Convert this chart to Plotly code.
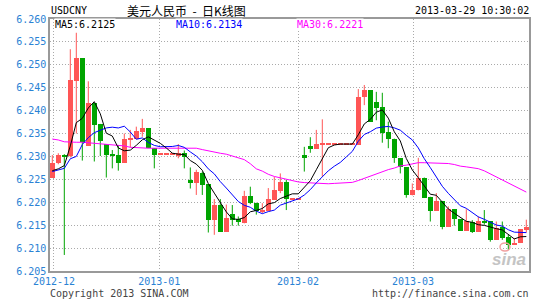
import plotly.graph_objects as go
import numpy as np

# ---------------- data ----------------
opens = [6.2254, 6.2285, 6.2303, 6.2300, 6.2465, 6.2514, 6.2323, 6.2416, 6.2371, 6.2327,
         6.2305, 6.2303, 6.2286, 6.2337, 6.2338, 6.2354, 6.2362, 6.2318, 6.2305, 6.2305,
         6.2305, 6.2301, 6.2307, 6.2249, 6.2241, 6.2263, 6.2240, 6.2162, 6.2194, 6.2136,
         6.2175, 6.2163, 6.2154, 6.2214, 6.2199, 6.2178, 6.2182, 6.2205, 6.2225, 6.2244,
         6.2207, 6.2207, 6.2303, 6.2323, 6.2317, 6.2327, 6.2327, 6.2327, 6.2327, 6.2327,
         6.2327, 6.2325, 6.2429, 6.2445, 6.2419, 6.2407, 6.2353, 6.2339, 6.2296, 6.2276,
         6.2215, 6.2226, 6.2254, 6.2212, 6.2182, 6.2203, 6.2147, 6.2185, 6.2163, 6.2138,
         6.2156, 6.2136, 6.2158, 6.2159, 6.2118, 6.2146, 6.2125, 6.2107, 6.2111, 6.2140]

highs = [6.2303, 6.2307, 6.2305, 6.2534, 6.2570, 6.2514, 6.2464, 6.2416, 6.2371, 6.2327,
         6.2314, 6.2325, 6.2350, 6.2358, 6.2365, 6.2382, 6.2362, 6.2318, 6.2305, 6.2305,
         6.2305, 6.2327, 6.2313, 6.2276, 6.2271, 6.2267, 6.2240, 6.2207, 6.2207, 6.2195,
         6.2194, 6.2169, 6.2225, 6.2234, 6.2199, 6.2198, 6.2231, 6.2255, 6.2263, 6.2249,
         6.2207, 6.2207, 6.2321, 6.2342, 6.2358, 6.2381, 6.2327, 6.2327, 6.2327, 6.2327,
         6.2327, 6.2447, 6.2456, 6.2445, 6.2441, 6.2439, 6.2376, 6.2339, 6.2296, 6.2276,
         6.2241, 6.2297, 6.2254, 6.2212, 6.2220, 6.2203, 6.2191, 6.2185, 6.2163, 6.2185,
         6.2161, 6.2169, 6.2183, 6.2159, 6.2158, 6.2158, 6.2129, 6.2122, 6.2141, 6.2162]

lows = [6.2254, 6.2283, 6.2085, 6.2298, 6.2350, 6.2291, 6.2323, 6.2289, 6.2301, 6.2254,
        6.2274, 6.2269, 6.2286, 6.2320, 6.2338, 6.2343, 6.2318, 6.2274, 6.2305, 6.2305,
        6.2305, 6.2296, 6.2274, 6.2230, 6.2216, 6.2216, 6.2134, 6.2129, 6.2136, 6.2136,
        6.2149, 6.2149, 6.2154, 6.2196, 6.2173, 6.2176, 6.2182, 6.2205, 6.2220, 6.2183,
        6.2207, 6.2207, 6.2267, 6.2308, 6.2317, 6.2256, 6.2327, 6.2327, 6.2327, 6.2327,
        6.2327, 6.2325, 6.2412, 6.2376, 6.2379, 6.2330, 6.2318, 6.2286, 6.2263, 6.2210,
        6.2215, 6.2226, 6.2210, 6.2158, 6.2182, 6.2141, 6.2147, 6.2149, 6.2138, 6.2138,
        6.2133, 6.2136, 6.2151, 6.2114, 6.2118, 6.2118, 6.2096, 6.2107, 6.2111, 6.2134]

closes = [6.2285, 6.2303, 6.2300, 6.2467, 6.2514, 6.2332, 6.2416, 6.2369, 6.2334, 6.2303,
          6.2301, 6.2286, 6.2338, 6.2341, 6.2355, 6.2362, 6.2318, 6.2303, 6.2305, 6.2305,
          6.2305, 6.2307, 6.2298, 6.2241, 6.2265, 6.2238, 6.2162, 6.2194, 6.2136, 6.2165,
          6.2162, 6.2156, 6.2214, 6.2199, 6.2180, 6.2183, 6.2207, 6.2227, 6.2244, 6.2207,
          6.2207, 6.2207, 6.2297, 6.2317, 6.2327, 6.2327, 6.2327, 6.2327, 6.2327, 6.2327,
          6.2327, 6.2429, 6.2445, 6.2376, 6.2406, 6.2352, 6.2339, 6.2296, 6.2276, 6.2215,
          6.2227, 6.2254, 6.2210, 6.2182, 6.2203, 6.2147, 6.2185, 6.2163, 6.2138, 6.2159,
          6.2136, 6.2159, 6.2156, 6.2118, 6.2143, 6.2122, 6.2107, 6.2110, 6.2141, 6.2146]

# moving-average values at the left edge (earlier history not shown)
ma5_head = [6.2269, 6.2273, 6.2280, 6.2323]
ma10_head = [6.2267, 6.2270, 6.2274, 6.2295, 6.2300, 6.2326, 6.2341, 6.2352, 6.2358]
ma30_head = [6.2338, 6.2336, 6.2332, 6.2331, 6.2331, 6.2331, 6.2330, 6.2329, 6.2327, 6.2326,
             6.2325, 6.2324, 6.2323, 6.2320, 6.2319, 6.2318, 6.2318, 6.2318, 6.2318, 6.2318,
             6.2318, 6.2319, 6.2319, 6.2318, 6.2318, 6.2315, 6.2312, 6.2310, 6.2307]

ma_labels = ["MA5:6.2125", "MA10:6.2134", "MA30:6.2221"]

month_ticks = [0.28, 17.83, 40.95, 60.12]
month_labels = ["2012-12", "2013-01", "2013-02", "2013-03"]
price_ticks = [6.205, 6.210, 6.215, 6.220, 6.225, 6.230, 6.235, 6.240, 6.245, 6.250, 6.255, 6.260]

title_code = "USDCNY"
title_cn = "美元人民币\u00a0\u00a0-\u00a0\u00a0日K线图"
timestamp = "2013-03-29 10:30:02"
copyright_txt = "Copyright 2013 SINA.COM"
url_txt = "http://finance.sina.com.cn"

# ---------------- computation ----------------
n = len(closes)
idx = np.arange(n)
c = np.array(closes)


def moving_avg(period, head):
    out = []
    for i in range(n):
        if i >= period - 1:
            out.append(float(c[i - period + 1:i + 1].mean()))
        else:
            out.append(head[i])
    return out


ma5 = moving_avg(5, ma5_head)
ma10 = moving_avg(10, ma10_head)
ma30 = moving_avg(30, ma30_head)

RED = "#ff5555"
GREEN = "#00a400"
MONO = "DejaVu Sans Mono"
TICKBLUE = "#2a82d4"
MIN_BODY = 0.00022

up = [closes[i] >= opens[i] for i in range(n)]

fig = go.Figure()

# wicks
for flag, col in ((True, RED), (False, GREEN)):
    xs, ys = [], []
    for i in range(n):
        if up[i] == flag:
            xs += [i, i, None]
            ys += [lows[i], highs[i], None]
    fig.add_trace(go.Scatter(x=xs, y=ys, mode="lines", line=dict(color=col, width=1),
                             hoverinfo="skip", showlegend=False))

# bodies
for flag, col in ((True, RED), (False, GREEN)):
    xs, bs, hs = [], [], []
    for i in range(n):
        if up[i] == flag:
            xs.append(i)
            bs.append(min(opens[i], closes[i]))
            hs.append(max(abs(closes[i] - opens[i]), MIN_BODY))
    fig.add_trace(go.Bar(x=xs, y=hs, base=bs, width=0.78, marker=dict(color=col, line=dict(width=0)),
                         showlegend=False, hoverinfo="skip"))

# moving averages
for vals, col in ((ma30, "#ff00ff"), (ma10, "#0000ff"), (ma5, "#000000")):
    fig.add_trace(go.Scatter(x=idx, y=vals, mode="lines", line=dict(color=col, width=1),
                             showlegend=False, hoverinfo="skip"))

L, R, T, B = 50, 529, 19, 271
W, H = 545, 300


def px(x):
    return (x - L) / (R - L)


def py(y):
    return (B - y) / (B - T)


ann = []


def add_text(text, x, y, anchor, color, size=10, family=MONO, bg=None):
    d = dict(text=text, x=px(x), y=py(y), xref="paper", yref="paper", xanchor=anchor,
             yanchor="middle", showarrow=False, font=dict(family=family, size=size, color=color))
    if bg:
        d.update(bgcolor=bg, borderpad=0)
    ann.append(d)


add_text(title_code, 49, 11, "left", "#000000")
add_text(title_cn, 186, 10.5, "center", "#000000", size=12, family="Noto Sans CJK SC")
add_text(timestamp, 531, 11, "right", "#000000")
add_text(ma_labels[0], 54, 24.5, "left", "#000000", bg="white")
add_text(ma_labels[1], 175, 24.5, "left", "#0000ff", bg="white")
add_text(ma_labels[2], 296, 24.5, "left", "#ff00ff", bg="white")
add_text(copyright_txt, 48, 293, "left", "#444444")
add_text(url_txt, 531, 293, "right", "#444444")
ann.append(dict(text="<b><i>sina</i></b>", x=px(509), y=py(259), xref="paper", yref="paper",
                xanchor="center", yanchor="middle", showarrow=False,
                font=dict(family="Liberation Sans", size=17, color="#c4c4c4")))

fig.update_layout(
    width=W, height=H,
    margin=dict(l=L, r=W - R, t=T, b=H - B),
    paper_bgcolor="white", plot_bgcolor="white",
    barmode="overlay", bargap=0,
    annotations=ann,
    shapes=[dict(type="circle", xref="paper", yref="paper",
                 x0=px(500), x1=px(510), y0=py(251), y1=py(243),
                 line=dict(color="#f2a0a0", width=1.5))],
    xaxis=dict(range=[-0.383, 79.45], tickmode="array", tickvals=month_ticks, ticktext=month_labels,
               showgrid=True, gridcolor="#aaaaaa", griddash="1px,2px", gridwidth=1,
               showline=True, mirror=True, linecolor="#999999", linewidth=1.5,
               zeroline=False, ticks="", tickfont=dict(family=MONO, size=10, color=TICKBLUE)),
    yaxis=dict(range=[6.205, 6.260], tickmode="array", tickvals=price_ticks,
               ticktext=[f"{v:.3f}" for v in price_ticks],
               showgrid=True, gridcolor="#aaaaaa", griddash="1px,2px", gridwidth=1,
               showline=True, mirror=True, linecolor="#999999", linewidth=1.5,
               zeroline=False, ticks="", tickfont=dict(family=MONO, size=10, color=TICKBLUE)),
)

fig.write_html("out.html")
